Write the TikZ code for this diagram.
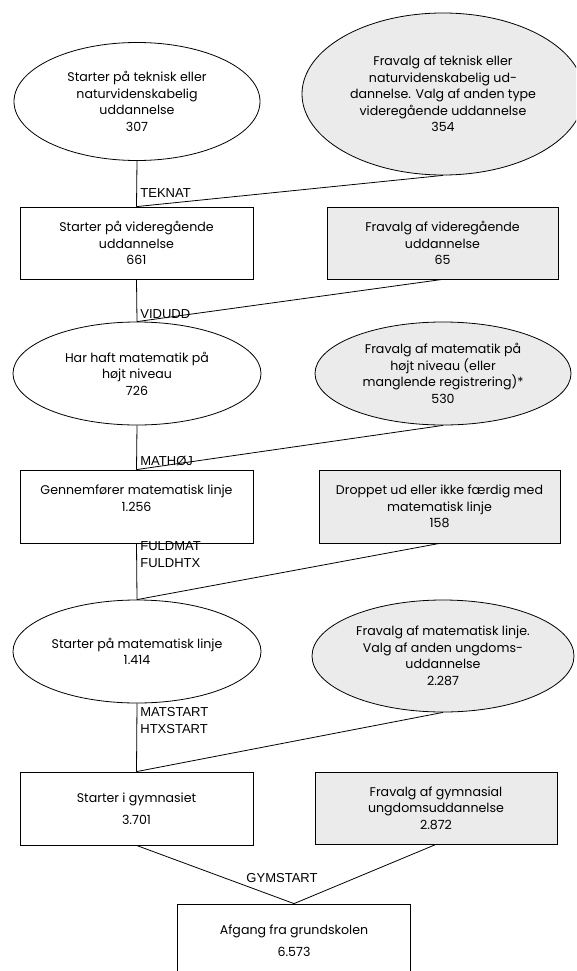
\documentclass[tikz,border=0pt]{standalone}
\usepackage{fontspec}
\setmainfont{Poppins}
\newfontfamily\lblfont{Liberation Sans}
\usetikzlibrary{shapes.geometric}
\definecolor{fillgrey}{HTML}{EBEBEB}
\begin{document}
\begin{tikzpicture}[x=1pt,y=-1pt, line width=0.8pt,
  every node/.style={font=\fontsize{12.6}{16.5}\selectfont},
  ell/.style={draw, ellipse, inner sep=0pt, align=center},
  box/.style={draw, rectangle, inner sep=0pt, align=center},
  grey/.style={fill=fillgrey},
  lbl/.style={font=\lblfont\fontsize{13}{16.5}\selectfont, anchor=base west, inner sep=0pt, align=left}]
\useasboundingbox (0,0) rectangle (576,971);
\clip (0,0) rectangle (576,971);

\node[ell, minimum width=246, minimum height=118] (e1) at (137,101.5) {Starter på teknisk eller\\naturvidenskabelig\\uddannelse\\307};
\node[ell, grey, minimum width=282, minimum height=162] (e2) at (443,94) {Fravalg af teknisk eller\\naturvidenskabelig ud-\\dannelse. Valg af anden type\\videregående uddannelse\\354};
\node[box, minimum width=233, minimum height=72] (b1) at (136.5,243) {Starter på videregående\\uddannelse\\661};
\node[box, grey, minimum width=231, minimum height=72] (b2) at (442.5,243) {Fravalg af videregående\\uddannelse\\65};
\node[ell, minimum width=248, minimum height=103] (e3) at (137,373.5) {Har haft matematik på\\højt niveau\\726};
\node[ell, grey, minimum width=256, minimum height=103] (e4) at (443,373.5) {Fravalg af matematik på\\højt niveau (eller\\manglende registrering)*\\530};
\node[box, minimum width=233, minimum height=73] (b3) at (136.5,506.5) {Gennemfører matematisk linje\\1.256\\\mbox{}};
\node[box, grey, minimum width=241, minimum height=73] (b4) at (439.5,506.5) {Droppet ud eller ikke færdig med\\matematisk linje\\158};
\node[ell, minimum width=248, minimum height=103] (e5) at (137,651.5) {Starter på matematisk linje\\1.414};
\node[ell, grey, minimum width=262, minimum height=112] (e6) at (443,656) {Fravalg af matematisk linje.\\Valg af anden ungdoms-\\uddannelse\\2.287};
\node[box, minimum width=233, minimum height=73] (b5) at (136.5,808.5) {Starter i gymnasiet\\[5pt]3.701};
\node[box, grey, minimum width=242, minimum height=72] (b6) at (436,808) {Fravalg af gymnasial\\ungdomsuddannelse\\2.872};
\node[box, minimum width=233, minimum height=73] (b7) at (294,940.5) {Afgang fra grundskolen\\[5pt]6.573};

\draw (e1.south) -- (b1.north);
\draw (e2.south) -- (b1.north);
\draw (b1.south) -- (e3.north);
\draw (b2.south) -- (e3.north);
\draw (e3.south) -- (b3.north);
\draw (e4.south) -- (b3.north);
\draw (b3.south) -- (e5.north);
\draw (b4.south) -- (e5.north);
\draw (e5.south) -- (b5.north);
\draw (e6.south) -- (b5.north);
\draw (b5.south) -- (b7.north);
\draw (b6.south) -- (b7.north);

\node[lbl] (l1) at (140,197) {TEKNAT};
\node[lbl] (l2) at (140,318) {VIDUDD};
\node[lbl] (l3) at (140,465) {MATHØJ};
\node[lbl] (l4) at (140,567) {FULDMAT\\FULDHTX};
\node[lbl] (l5) at (140,733) {MATSTART\\HTXSTART};
\node[lbl, anchor=base] (l6) at (282,882) {GYMSTART};
\end{tikzpicture}
\end{document}
